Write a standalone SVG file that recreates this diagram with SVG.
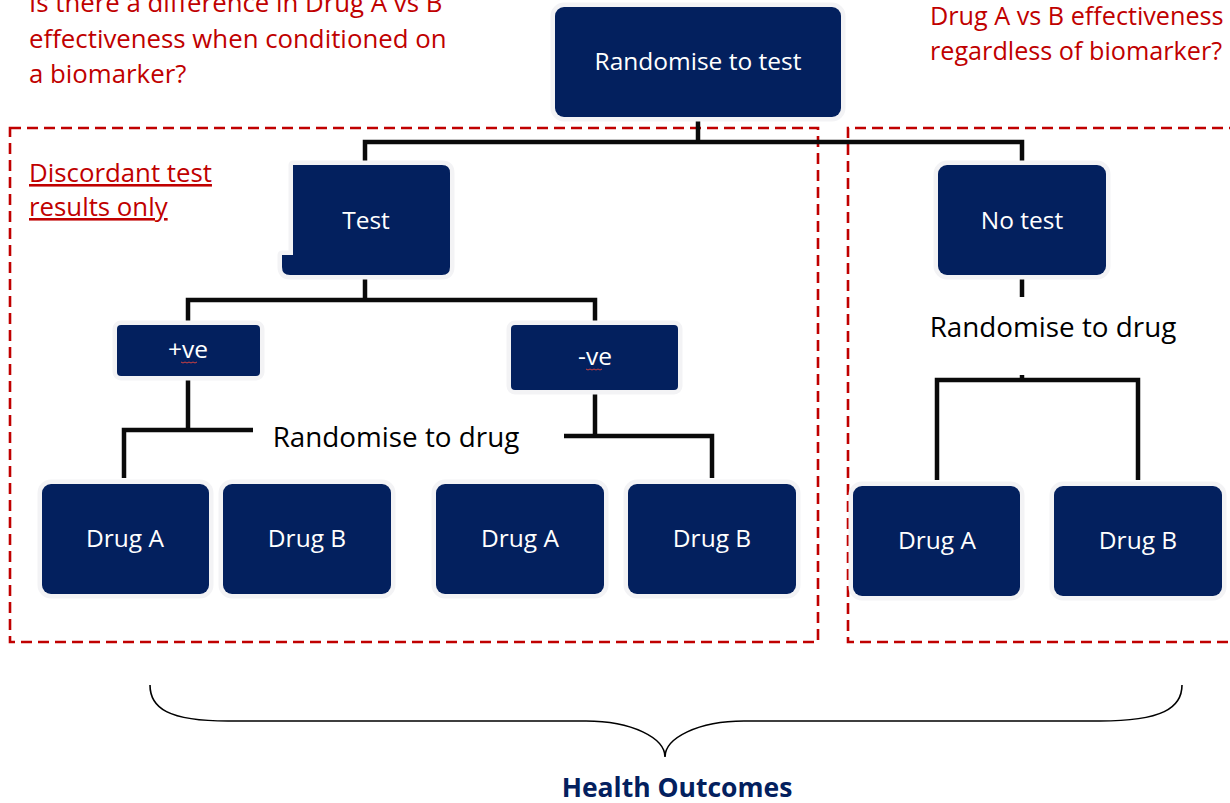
<svg xmlns="http://www.w3.org/2000/svg" width="1230" height="803" viewBox="0 0 1230 803">
  <style>
    .node { fill: #03205e; stroke: #f3f3f5; stroke-width: 9; stroke-linejoin: round; paint-order: stroke; }
    .label { font-family: "Open Sans", "Liberation Sans", sans-serif; font-size: 24.5px; fill: #ffffff; text-anchor: middle; }
    .note { font-family: "Open Sans", "Liberation Sans", sans-serif; font-size: 25.8px; fill: #c00000; }
    .note-right { font-size: 25.2px; }
    .step { font-family: "Open Sans", "Liberation Sans", sans-serif; font-size: 27.8px; fill: #000000; text-anchor: middle; }
    .wire { fill: none; stroke: #0a0a0a; stroke-width: 4.5; stroke-linejoin: miter; }
    .zone { fill: none; stroke: #c00000; stroke-width: 2.6; stroke-dasharray: 11 6; }
    .squiggle { fill: none; stroke: #d04040; stroke-width: 1; }
  </style>

  <rect width="1230" height="803" fill="#ffffff"/>

  <!-- dashed study arms -->
  <g id="zones">
    <rect class="zone" x="10" y="128" width="808" height="514"/>
    <path class="zone" d="M1240,128 H848 V642 H1240"/>
  </g>

  <!-- questions -->
  <g id="questions">
    <text class="note" x="29" y="12">Is there a difference in Drug A vs B</text>
    <text class="note" x="29" y="48">effectiveness when conditioned on</text>
    <text class="note" x="29" y="83">a biomarker?</text>
    <text class="note note-right" x="930" y="25">Drug A vs B effectiveness</text>
    <text class="note note-right" x="930" y="60">regardless of biomarker?</text>
    <text class="note" x="29" y="182" text-decoration="underline">Discordant test</text>
    <text class="note" x="29" y="216" text-decoration="underline">results only</text>
  </g>

  <!-- connectors -->
  <g id="connectors">
    <path class="wire" d="M698,117 V142"/>
    <path class="wire" d="M365,165 V142 H1022 V165"/>
    <path class="wire" d="M365,275 V300"/>
    <path class="wire" d="M188,325 V300 H595 V325"/>
    <path class="wire" d="M188,376 V430"/>
    <path class="wire" d="M124,478 V430 H253"/>
    <path class="wire" d="M595,390 V436"/>
    <path class="wire" d="M564,436 H712 V478"/>
    <path class="wire" d="M1022,278 V297"/>
    <path class="wire" d="M1022,375 V380"/>
    <path class="wire" d="M937,480 V380 H1138 V480"/>
  </g>

  <g id="randomise-test">
    <rect class="node" x="555" y="7" width="286" height="110" rx="9"/>
    <text class="label" x="698" y="70">Randomise to test</text>
  </g>

  <g id="test">
    <path class="node" d="M293,165 H442 Q450,165 450,173 V267 Q450,275 442,275 H290 Q282,275 282,267 V255 H293 Z"/>
    <text class="label" x="366" y="229">Test</text>
  </g>

  <g id="no-test">
    <rect class="node" x="938" y="165" width="168" height="110" rx="9"/>
    <text class="label" x="1022" y="229">No test</text>
  </g>

  <g id="positive">
    <rect class="node" x="117" y="325" width="143" height="51" rx="4"/>
    <text class="label" x="188" y="358">+ve</text>
    <path class="squiggle" d="M181,362 l2,1 l2,-1 l2,1 l2,-1 l2,1 l2,-1 l2,1 l2,-1"/>
  </g>

  <g id="negative">
    <rect class="node" x="511" y="325" width="167" height="65" rx="4"/>
    <text class="label" x="595" y="365">-ve</text>
    <path class="squiggle" d="M586,369 l2,1 l2,-1 l2,1 l2,-1 l2,1 l2,-1 l2,1 l2,-1"/>
  </g>

  <g id="randomise-drug-left">
    <text class="step" x="396" y="447">Randomise to drug</text>
  </g>

  <g id="randomise-drug-right">
    <text class="step" x="1053" y="337">Randomise to drug</text>
  </g>

  <g id="pos-drug-a">
    <rect class="node" x="42" y="484" width="167" height="110" rx="9"/>
    <text class="label" x="125" y="547">Drug A</text>
  </g>
  <g id="pos-drug-b">
    <rect class="node" x="223" y="484" width="168" height="110" rx="9"/>
    <text class="label" x="307" y="547">Drug B</text>
  </g>
  <g id="neg-drug-a">
    <rect class="node" x="436" y="484" width="168" height="110" rx="9"/>
    <text class="label" x="520" y="547">Drug A</text>
  </g>
  <g id="neg-drug-b">
    <rect class="node" x="628" y="484" width="168" height="110" rx="9"/>
    <text class="label" x="712" y="547">Drug B</text>
  </g>
  <g id="notest-drug-a">
    <rect class="node" x="853" y="486" width="167" height="110" rx="9"/>
    <text class="label" x="937" y="549">Drug A</text>
  </g>
  <g id="notest-drug-b">
    <rect class="node" x="1054" y="486" width="168" height="110" rx="9"/>
    <text class="label" x="1138" y="549">Drug B</text>
  </g>

  <!-- outcome brace -->
  <g id="outcomes">
    <path d="M150,685 C150,708 168,721 228,721 H586 C632,721 665,738 665,757 C665,738 698,721 744,721 H1100 C1162,721 1182,708 1182,685" fill="none" stroke="#000000" stroke-width="1.6"/>
    <text x="677" y="797" font-family="'Open Sans', 'Liberation Sans', sans-serif" font-size="26.5px" font-weight="bold" fill="#03205e" text-anchor="middle">Health Outcomes</text>
  </g>
</svg>
